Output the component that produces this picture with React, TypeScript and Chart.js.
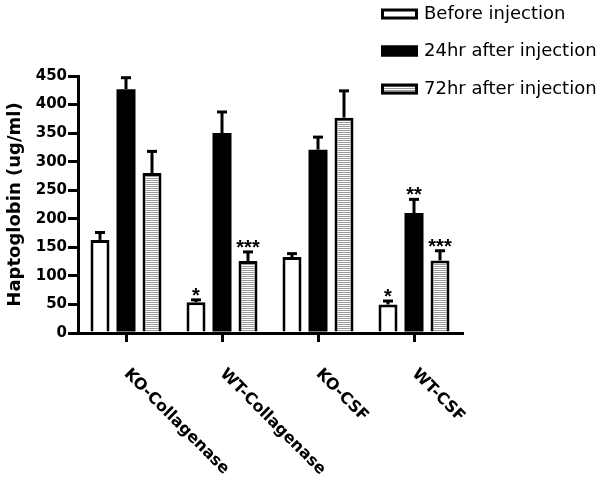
import React, { useEffect, useRef } from 'react';
import { Chart, registerables } from 'chart.js';

Chart.register(...registerables);

const categories = ['KO-Collagenase', 'WT-Collagenase', 'KO-CSF', 'WT-CSF'];
const seriesNames = ['Before injection', '24hr after injection', '72hr after injection'];
const beforeValues = [163, 54, 133, 50];
const h24Values = [427, 350, 321, 210];
const h72Values = [280, 126, 377, 127];
const beforeErrors = [13, 4, 6, 6];
const h24Errors = [20, 37, 22, 24];
const h72Errors = [38, 16, 47, 17];
const beforeStars = ['', '*', '', '*'];
const h24Stars = ['', '', '', '**'];
const h72Stars = ['', '***', '', '***'];
const yTickValues = [0, 50, 100, 150, 200, 250, 300, 350, 400, 450];
const yTitle = 'Haptoglobin (ug/ml)';

const errorSets = [beforeErrors, h24Errors, h72Errors];
const starSets = [beforeStars, h24Stars, h72Stars];

function makeStripePattern(): CanvasPattern | string {
  const c = document.createElement('canvas');
  c.width = 4;
  c.height = 2;
  const g = c.getContext('2d');
  if (!g) return '#ccc';
  g.fillStyle = '#ffffff';
  g.fillRect(0, 0, 4, 2);
  g.fillStyle = '#9a9a9a';
  g.fillRect(0, 0, 4, 1);
  const p = g.createPattern(c, 'repeat');
  return p || '#ccc';
}

export default function App() {
  const ref = useRef<HTMLCanvasElement | null>(null);

  useEffect(() => {
    const canvas = ref.current;
    if (!canvas) return;
    const stripe = makeStripePattern();
    const fills: (string | CanvasPattern)[] = ['#ffffff', '#000000', stripe];

    const overlay = {
      id: 'overlay',
      afterDatasetsDraw(chart: any) {
        const ctx = chart.ctx as CanvasRenderingContext2D;
        const ys = chart.scales.y;
        chart.data.datasets.forEach((ds: any, di: number) => {
          const meta = chart.getDatasetMeta(di);
          meta.data.forEach((bar: any, i: number) => {
            const v = ds.data[i] as number;
            const e = errorSets[di][i];
            const x = bar.x;
            const top = ys.getPixelForValue(v);
            const et = ys.getPixelForValue(v + e);
            ctx.save();
            ctx.strokeStyle = '#000';
            ctx.lineWidth = 3;
            ctx.beginPath();
            ctx.moveTo(x, top);
            ctx.lineTo(x, et);
            ctx.stroke();
            ctx.beginPath();
            ctx.moveTo(x - 5, et);
            ctx.lineTo(x + 5, et);
            ctx.stroke();
            const s = starSets[di][i];
            if (s) {
              ctx.fillStyle = '#000';
              ctx.font = 'bold 20px "Liberation Sans", Arial, sans-serif';
              ctx.textAlign = 'center';
              ctx.textBaseline = 'alphabetic';
              ctx.fillText(s, x, et + 2);
            }
            ctx.restore();
          });
        });
      },
      afterDraw(chart: any) {
        const ctx = chart.ctx as CanvasRenderingContext2D;
        const xs = chart.scales.x;
        // rotated category labels
        categories.forEach((label, i) => {
          const x = xs.getPixelForValue(i);
          ctx.save();
          ctx.translate(x + 6, 366);
          ctx.rotate(Math.PI / 4);
          ctx.fillStyle = '#000';
          ctx.font = 'bold 16px "DejaVu Sans", sans-serif';
          ctx.textAlign = 'left';
          ctx.textBaseline = 'top';
          ctx.fillText(label, 0, 0);
          ctx.restore();
        });
        // legend
        const centers = [14, 51, 89];
        seriesNames.forEach((name, i) => {
          const cy = centers[i];
          const bx = 381, bw = 37, bh = 11;
          const by = cy - bh / 2;
          ctx.save();
          ctx.fillStyle = fills[i] as any;
          ctx.fillRect(bx, by, bw, bh);
          ctx.strokeStyle = '#000';
          ctx.lineWidth = 3;
          ctx.strokeRect(bx + 1.5, by + 1.5, bw - 3, bh - 3);
          ctx.fillStyle = '#000';
          ctx.font = '18px "DejaVu Sans", sans-serif';
          ctx.textAlign = 'left';
          ctx.textBaseline = 'middle';
          ctx.fillText(name, 424, cy);
          ctx.restore();
        });
      },
    };

    const mk = (label: string, data: number[], bg: any, bw: number) => ({
      label,
      data,
      backgroundColor: bg,
      borderColor: '#000',
      borderWidth: bw,
      inflateAmount: 0,
      barPercentage: 0.73,
      categoryPercentage: 0.8125,
    });

    const chart = new Chart(canvas, {
      type: 'bar',
      data: {
        labels: categories,
        datasets: [
          mk(seriesNames[0], beforeValues, fills[0], 3),
          mk(seriesNames[1], h24Values, fills[1], 0),
          mk(seriesNames[2], h72Values, fills[2], 3),
        ],
      },
      options: {
        responsive: false,
        animation: false,
        layout: { padding: { left: 0, right: 138, top: 76, bottom: 0 } },
        plugins: { legend: { display: false }, tooltip: { enabled: false } },
        scales: {
          x: {
            ticks: { display: false },
            grid: {
              display: true,
              drawOnChartArea: false,
              drawTicks: true,
              tickLength: 9,
              lineWidth: 3,
              color: '#000',
              offset: false,
            },
            border: { display: true, color: '#000', width: 3 },
            afterFit: (s: any) => {
              s.height = 149;
            },
          },
          y: {
            min: 0,
            max: 450,
            afterBuildTicks: (s: any) => {
              s.ticks = yTickValues.map((v) => ({ value: v }));
            },
            ticks: {
              color: '#000',
              padding: 1,
              font: { family: '"DejaVu Sans", sans-serif', weight: 'bold', size: 15 },
            },
            grid: {
              drawOnChartArea: false,
              drawTicks: true,
              tickLength: 10,
              lineWidth: 3,
              color: '#000',
            },
            border: { display: true, color: '#000', width: 3 },
            title: {
              display: true,
              text: yTitle,
              color: '#000',
              font: { family: '"DejaVu Sans", sans-serif', weight: 'bold', size: 18 },
              padding: { top: 5, bottom: 0 },
            },
            afterFit: (s: any) => {
              s.width = 78;
            },
          },
        },
      } as any,
      plugins: [overlay],
    });

    return () => chart.destroy();
  }, []);

  return (
    <div style={{ position: 'absolute', left: 0, top: 0, width: 600, height: 482, background: '#fff' }}>
      <canvas ref={ref} width={600} height={482} style={{ display: 'block' }} />
    </div>
  );
}
